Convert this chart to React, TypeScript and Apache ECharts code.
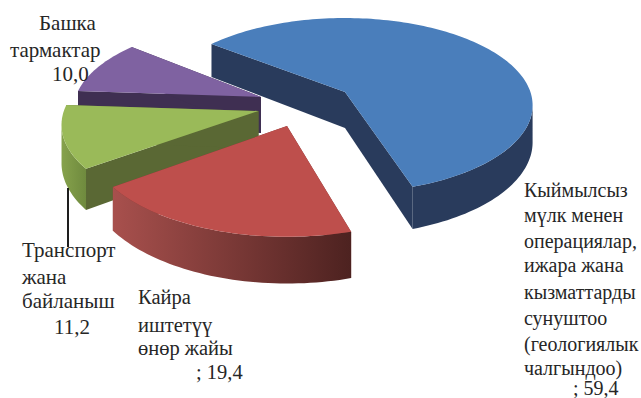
import { useEffect, useRef } from "react";
import * as echarts from "echarts";

// Share of each activity, in percent, clockwise from the large blue sector.
const categories = ["Кыймылсыз мүлк", "Кайра иштетүү", "Транспорт", "Башка тармактар"];
const shares = [59.4, 19.4, 11.2, 10.0];

const labelLines = [
  ["Кыймылсыз", "мүлк менен", "операциялар,", "ижара жана", "кызматтарды", "сунуштоо", "(геологиялык", "чалгындоо)"],
  ["Кайра", "иштетүү", "өнөр жайы"],
  ["Транспорт", "жана", "байланыш"],
  ["Башка", "тармактар"],
];

// Sectors are painted back to front.
const drawOrder = [0, 3, 2, 1];

// Drawing style of the pseudo-3D sectors.
const START_ANGLE = -52;
const RADIUS_X = 185.4;
const RADIUS_Y = 85.3;
const PERSPECTIVE = 0.153;
const DEPTH = 36;

const sectorStyles = [
  { apex: [345, 92], sx: 1, sy: 1, turn: 0, top: "#4a7ebb", cut: "#293b5c", wall: ["#293b5c", "#293b5c"] },
  { apex: [287, 126], sx: 1.06, sy: 1.1, turn: 2, top: "#be4f4c", cut: "#7d3836", wall: ["#4d2220", "#a8504d"] },
  { apex: [258.5, 111], sx: 1.05, sy: 1.04, turn: 2, top: "#9aba59", cut: "#5a6834", wall: ["#6f8a3e", "#86a24c"] },
  { apex: [261, 97], sx: 1, sy: 1, turn: 2, top: "#7f62a1", cut: "#3f2f52", wall: ["#3f2f52", "#3f2f52"] },
];

const decimal = (v: number) => v.toFixed(1).replace(".", ",");

const labelPlacement = [
  { fontSize: 20, xs: [524], ys: [190, 215, 241, 265, 292, 318, 344, 368], prefix: "; ", valueX: 573, valueY: 388 },
  { fontSize: 20.5, xs: [138], ys: [297, 325, 348], prefix: "; ", valueX: 196, valueY: 372 },
  { fontSize: 21, xs: [22], ys: [250, 277, 301], prefix: "", valueX: 54, valueY: 327 },
  { fontSize: 21, xs: [39, 10], ys: [23, 50], prefix: "", valueX: 52, valueY: 74 },
];

function surfacePoint(i: number, deg: number): number[] {
  const { apex, sx, sy } = sectorStyles[i];
  const t = (deg * Math.PI) / 180;
  const w = 1 / (1 + PERSPECTIVE * Math.cos(t));
  return [apex[0] + RADIUS_X * Math.sin(t) * w * sx, apex[1] - RADIUS_Y * Math.cos(t) * w * sy];
}

function drop(i: number, deg: number): number {
  const t = (deg * Math.PI) / 180;
  return (DEPTH * sectorStyles[i].sy) / (1 + PERSPECTIVE * Math.cos(t));
}

function arcPoints(i: number, from: number, to: number): number[][] {
  const n = Math.max(2, Math.ceil(Math.abs(to - from) / 1.5));
  const pts: number[][] = [];
  for (let k = 0; k <= n; k++) pts.push(surfacePoint(i, from + ((to - from) * k) / n));
  return pts;
}

function renderSector(_params: any, api: any) {
  const value = api.value(0);
  const i = api.value(1);
  const s = sectorStyles[i];
  const total = shares.reduce((x, y) => x + y, 0);
  const before = shares.slice(0, i).reduce((x, y) => x + y, 0);
  const from = START_ANGLE + s.turn + (before / total) * 360;
  const to = from + (value / total) * 360;
  const apex = s.apex;
  const apexDrop = DEPTH * s.sy;
  const a = surfacePoint(i, from);
  const b = surfacePoint(i, to);

  const children: any[] = [];
  const cutFace = (p: number[], deg: number) => ({
    type: "polygon",
    shape: { points: [apex, p, [p[0], p[1] + drop(i, deg)], [apex[0], apex[1] + apexDrop]] },
    style: { fill: s.cut },
  });
  children.push(cutFace(a, from), cutFace(b, to));

  // Outer wall: only the part of the rim that faces the viewer.
  const wallFrom = Math.max(from, 98);
  const wallTo = Math.min(to, 262);
  if (wallTo > wallFrom) {
    const rim = arcPoints(i, wallFrom, wallTo);
    const lower = rim
      .map((p, k) => [p[0], p[1] + drop(i, wallFrom + ((wallTo - wallFrom) * k) / (rim.length - 1))])
      .reverse();
    children.push({
      type: "polygon",
      shape: { points: [...rim, ...lower] },
      style: {
        fill: new echarts.graphic.LinearGradient(1, 0, 0, 0, [
          { offset: 0, color: s.wall[0] },
          { offset: 1, color: s.wall[1] },
        ]),
      },
    });
  }

  children.push({
    type: "polygon",
    shape: { points: [apex, ...arcPoints(i, from, to)] },
    style: { fill: s.top },
  });
  return { type: "group", children };
}

function textItem(text: string, x: number, y: number, fontSize: number) {
  return {
    type: "text",
    z: 10,
    x,
    y,
    style: {
      text,
      fontFamily: '"Liberation Serif", serif',
      fontSize,
      fill: "#262626",
      textAlign: "left",
      textVerticalAlign: "middle",
    },
  };
}

export default function App() {
  const ref = useRef<HTMLDivElement>(null);
  useEffect(() => {
    document.body.style.margin = "0";
    const chart = echarts.init(ref.current!, null, { renderer: "svg" });
    const texts: any[] = [];
    labelLines.forEach((lines, i) => {
      const p = labelPlacement[i];
      lines.forEach((line, k) => {
        texts.push(textItem(line, p.xs[k] ?? p.xs[0], p.ys[k], p.fontSize));
      });
      texts.push(textItem(p.prefix + decimal(shares[i]), p.valueX, p.valueY, p.fontSize));
    });
    chart.setOption({
      animation: false,
      backgroundColor: "#ffffff",
      series: [
        {
          type: "custom",
          coordinateSystem: "none",
          silent: true,
          data: drawOrder.map((i) => ({ name: categories[i], value: [shares[i], i] })),
          renderItem: renderSector,
        },
      ],
      graphic: [
        {
          type: "line",
          z: 9,
          shape: { x1: 68, y1: 188, x2: 68, y2: 247 },
          style: { stroke: "#1e1e1e", lineWidth: 2 },
        },
        ...texts,
      ],
    });
    return () => chart.dispose();
  }, []);
  return <div ref={ref} style={{ position: "absolute", left: 0, top: 0, width: 641, height: 398 }} />;
}
